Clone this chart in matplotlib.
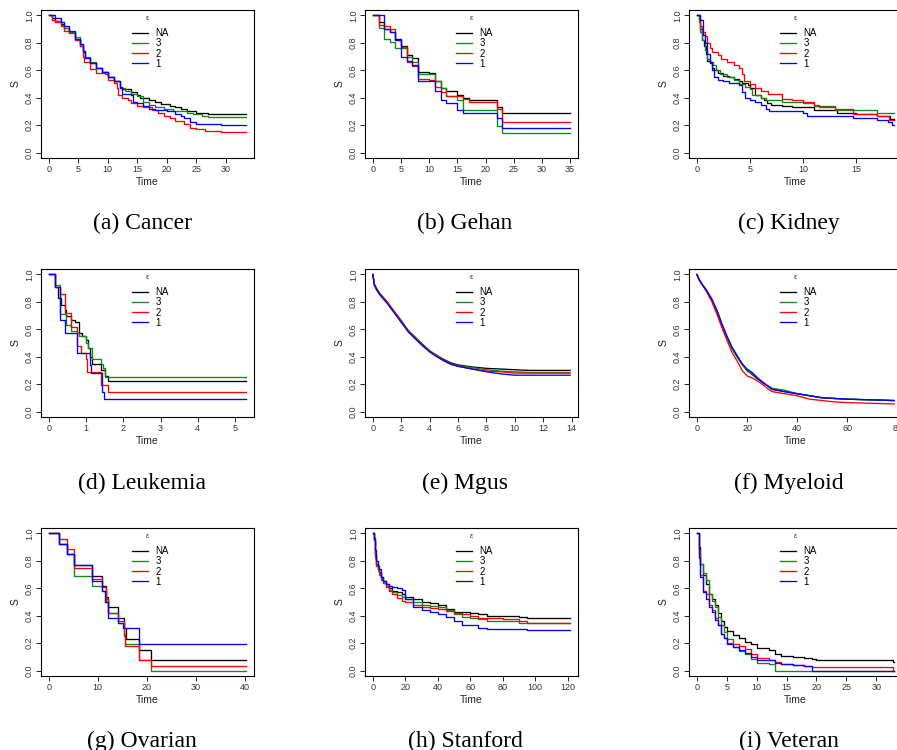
import matplotlib
matplotlib.use('Agg')
import matplotlib.pyplot as plt

plt.rcParams['font.family'] = ['Liberation Sans', 'DejaVu Sans']

labels = ['NA', '3', '2', '1']
colors = ['black', '#118811', '#ff0000', '#0000ff']

# (a) Cancer
cancer_na_t = [0, 0.5, 1, 2, 2.5, 3.5, 4.5, 5.3, 5.8, 6.1, 7, 8, 9, 10, 11, 12, 12.5, 14, 15, 15.5, 17, 18, 19, 20.5, 21.5, 22.5, 23.5, 25, 26, 27, 33.5]
cancer_na_s = [1.0, 0.98, 0.96, 0.94, 0.91, 0.88, 0.83, 0.78, 0.73, 0.69, 0.65, 0.62, 0.59, 0.55, 0.52, 0.48, 0.46, 0.44, 0.42, 0.40, 0.38, 0.37, 0.355, 0.34, 0.33, 0.32, 0.305, 0.29, 0.285, 0.28, 0.28]
cancer_g_t = [0, 0.5, 1, 2, 2.5, 3.5, 4.5, 5.3, 5.8, 6.1, 7, 8, 9, 10, 11, 12, 13, 14, 15, 16, 17, 18, 19.5, 21, 22, 23.5, 24.5, 26, 27, 33.5]
cancer_g_s = [1.0, 0.97, 0.96, 0.93, 0.91, 0.88, 0.84, 0.79, 0.74, 0.70, 0.66, 0.62, 0.59, 0.55, 0.52, 0.47, 0.45, 0.43, 0.41, 0.37, 0.35, 0.33, 0.315, 0.305, 0.30, 0.29, 0.28, 0.27, 0.26, 0.26]
cancer_r_t = [0, 0.5, 1, 2, 2.5, 3.5, 4.5, 5.3, 5.8, 6, 7, 8, 9.5, 10, 11, 11.5, 11.8, 12.5, 13.5, 14, 15, 16, 17.5, 18.5, 19.5, 20.5, 21.5, 23, 24, 25, 26.5, 29.3, 33.5]
cancer_r_s = [1.0, 0.97, 0.95, 0.92, 0.89, 0.87, 0.82, 0.78, 0.70, 0.66, 0.61, 0.58, 0.57, 0.53, 0.51, 0.47, 0.42, 0.40, 0.38, 0.36, 0.34, 0.33, 0.31, 0.29, 0.27, 0.25, 0.23, 0.21, 0.18, 0.17, 0.16, 0.15, 0.15]
cancer_b_t = [0, 1, 2, 2.5, 3.5, 4.5, 5.3, 5.8, 6.2, 7, 8, 9, 10, 11, 12, 12.5, 14, 14.3, 15, 16, 17, 18, 20, 21.5, 22.5, 23, 24, 25, 29.3, 33.5]
cancer_b_s = [1.0, 0.98, 0.95, 0.92, 0.89, 0.83, 0.79, 0.74, 0.69, 0.65, 0.62, 0.59, 0.55, 0.52, 0.47, 0.43, 0.42, 0.37, 0.36, 0.34, 0.32, 0.31, 0.30, 0.28, 0.27, 0.25, 0.22, 0.21, 0.20, 0.20]

# (b) Gehan
gehan_na_t = [0, 1, 2, 3, 4, 5, 6, 7, 8, 10, 11, 12, 13, 15, 16, 17, 22, 23, 35]
gehan_na_s = [1.0, 0.95, 0.90, 0.88, 0.83, 0.78, 0.71, 0.69, 0.59, 0.58, 0.52, 0.47, 0.45, 0.42, 0.40, 0.38, 0.33, 0.285, 0.285]
gehan_g_t = [0, 1, 2, 3, 4, 6, 7, 8, 11, 12, 13, 15, 16, 22, 23, 35]
gehan_g_s = [1.0, 0.91, 0.83, 0.81, 0.76, 0.70, 0.66, 0.57, 0.52, 0.47, 0.41, 0.38, 0.31, 0.19, 0.14, 0.14]
gehan_r_t = [0, 1, 2, 3, 4, 5, 6, 7, 8, 10, 11, 12, 13, 16, 17, 22, 23, 35]
gehan_r_s = [1.0, 0.93, 0.92, 0.90, 0.82, 0.77, 0.66, 0.63, 0.54, 0.53, 0.48, 0.44, 0.41, 0.39, 0.37, 0.32, 0.22, 0.22]
gehan_b_t = [0, 2, 3, 4, 5, 6, 7, 8, 11, 12, 13, 15, 16, 22, 23, 35]
gehan_b_s = [1.0, 0.90, 0.88, 0.82, 0.70, 0.67, 0.64, 0.52, 0.45, 0.38, 0.36, 0.31, 0.29, 0.25, 0.18, 0.18]

# (c) Kidney
kidney_na_t = [0, 0.2, 0.3, 0.5, 0.7, 0.9, 1.0, 1.2, 1.4, 1.6, 2.0, 2.5, 3.0, 3.5, 4.0, 4.3, 4.8, 5.0, 5.5, 6.0, 6.3, 6.6, 7.0, 8.0, 9.0, 10.0, 11.0, 13.2, 15.0, 17.0, 18.2, 18.6]
kidney_na_s = [1.0, 0.97, 0.90, 0.82, 0.78, 0.72, 0.67, 0.65, 0.62, 0.60, 0.58, 0.56, 0.55, 0.54, 0.52, 0.51, 0.49, 0.47, 0.42, 0.40, 0.38, 0.36, 0.35, 0.34, 0.335, 0.33, 0.31, 0.29, 0.28, 0.27, 0.245, 0.245]
kidney_g_t = [0, 0.2, 0.3, 0.5, 0.8, 1.0, 1.2, 1.5, 1.8, 2.2, 2.8, 3.5, 4.0, 4.5, 5.0, 5.2, 6.0, 6.5, 8.0, 10.0, 11.0, 13.0, 17.0, 18.6]
kidney_g_s = [1.0, 0.95, 0.88, 0.82, 0.75, 0.68, 0.66, 0.64, 0.60, 0.57, 0.55, 0.53, 0.50, 0.48, 0.46, 0.42, 0.40, 0.38, 0.37, 0.36, 0.34, 0.31, 0.29, 0.29]
kidney_r_t = [0, 0.3, 0.5, 0.8, 1.0, 1.2, 1.4, 2.0, 2.3, 2.8, 3.5, 4.0, 4.3, 4.4, 5.0, 5.5, 6.0, 6.7, 8.0, 9.0, 10.0, 11.0, 11.5, 13.0, 14.7, 17.0, 18.1, 18.6]
kidney_r_s = [1.0, 0.92, 0.88, 0.85, 0.80, 0.76, 0.73, 0.71, 0.68, 0.66, 0.64, 0.62, 0.57, 0.52, 0.50, 0.47, 0.45, 0.43, 0.39, 0.38, 0.37, 0.35, 0.33, 0.32, 0.28, 0.265, 0.24, 0.24]
kidney_b_t = [0, 0.3, 0.6, 0.8, 1.0, 1.2, 1.4, 1.6, 2.0, 2.5, 3.0, 4.0, 4.3, 4.5, 5.0, 5.5, 6.0, 6.5, 6.8, 10.0, 10.4, 14.7, 17.0, 18.0, 18.4, 18.6]
kidney_b_s = [1.0, 0.97, 0.86, 0.80, 0.72, 0.66, 0.60, 0.55, 0.53, 0.52, 0.51, 0.49, 0.44, 0.40, 0.38, 0.37, 0.35, 0.32, 0.30, 0.29, 0.265, 0.25, 0.24, 0.22, 0.20, 0.20]

# (d) Leukemia
leuk_na_t = [0, 0.17, 0.25, 0.33, 0.42, 0.45, 0.6, 0.7, 0.8, 0.9, 1.0, 1.05, 1.1, 1.15, 1.4, 1.5, 1.6, 5.3]
leuk_na_s = [1.0, 0.91, 0.83, 0.78, 0.74, 0.70, 0.67, 0.65, 0.57, 0.55, 0.52, 0.46, 0.40, 0.35, 0.30, 0.26, 0.22, 0.22]
leuk_g_t = [0, 0.17, 0.3, 0.45, 0.6, 0.75, 0.8, 1.0, 1.05, 1.15, 1.4, 1.45, 1.5, 5.3]
leuk_g_s = [1.0, 0.92, 0.71, 0.63, 0.59, 0.57, 0.55, 0.50, 0.46, 0.38, 0.35, 0.32, 0.25, 0.25]
leuk_r_t = [0, 0.17, 0.3, 0.42, 0.6, 0.75, 0.85, 1.0, 1.03, 1.4, 1.6, 5.3]
leuk_r_s = [1.0, 0.91, 0.86, 0.72, 0.62, 0.48, 0.43, 0.38, 0.29, 0.19, 0.14, 0.14]
leuk_b_t = [0, 0.17, 0.3, 0.42, 0.75, 1.1, 1.12, 1.42, 1.48, 5.3]
leuk_b_s = [1.0, 0.91, 0.67, 0.57, 0.43, 0.34, 0.28, 0.14, 0.095, 0.095]

# (e) Mgus
mgus_t = [0, 0.1, 0.3, 0.5, 1, 1.5, 2, 2.5, 3, 3.5, 4, 4.5, 5, 5.5, 6, 7, 8, 9, 10, 11, 12, 13.9]
mgus_na = [1, 0.93, 0.89, 0.86, 0.80, 0.73, 0.66, 0.59, 0.54, 0.49, 0.44, 0.41, 0.38, 0.355, 0.34, 0.325, 0.315, 0.31, 0.305, 0.30, 0.30, 0.30]
mgus_g = [1, 0.93, 0.89, 0.86, 0.80, 0.73, 0.665, 0.59, 0.54, 0.49, 0.445, 0.41, 0.375, 0.35, 0.335, 0.32, 0.305, 0.295, 0.29, 0.285, 0.285, 0.285]
mgus_r = [1, 0.93, 0.885, 0.855, 0.80, 0.73, 0.655, 0.585, 0.53, 0.48, 0.44, 0.405, 0.37, 0.345, 0.33, 0.31, 0.295, 0.29, 0.28, 0.28, 0.28, 0.28]
mgus_b = [1, 0.92, 0.88, 0.85, 0.79, 0.72, 0.65, 0.58, 0.53, 0.48, 0.435, 0.40, 0.37, 0.345, 0.33, 0.31, 0.29, 0.275, 0.265, 0.265, 0.265, 0.265]

# (f) Myeloid
mye_t = [0, 1, 2, 4, 6, 8, 10, 12, 14, 16, 18, 20, 22, 24, 26, 28, 30, 35, 40, 45, 50, 55, 60, 70, 78.6]
mye_na = [1, 0.96, 0.93, 0.88, 0.81, 0.73, 0.63, 0.54, 0.46, 0.40, 0.345, 0.30, 0.27, 0.24, 0.215, 0.19, 0.165, 0.145, 0.13, 0.115, 0.10, 0.095, 0.09, 0.085, 0.08]
mye_g = [1, 0.96, 0.93, 0.88, 0.81, 0.73, 0.63, 0.54, 0.46, 0.40, 0.345, 0.295, 0.275, 0.245, 0.22, 0.19, 0.17, 0.155, 0.13, 0.115, 0.10, 0.095, 0.09, 0.085, 0.08]
mye_r = [1, 0.96, 0.93, 0.87, 0.80, 0.71, 0.61, 0.52, 0.43, 0.37, 0.30, 0.26, 0.245, 0.225, 0.20, 0.17, 0.145, 0.13, 0.115, 0.09, 0.08, 0.07, 0.065, 0.06, 0.055]
mye_b = [1, 0.96, 0.93, 0.88, 0.82, 0.74, 0.64, 0.55, 0.47, 0.41, 0.35, 0.31, 0.285, 0.25, 0.215, 0.19, 0.16, 0.145, 0.13, 0.115, 0.10, 0.095, 0.09, 0.085, 0.08]

# (g) Ovarian
ov_na_t = [0, 2, 3.8, 5.1, 8.8, 10.9, 11.6, 12.0, 14.2, 15.3, 15.7, 18.5, 20.9, 40.3]
ov_na_s = [1.0, 0.92, 0.85, 0.77, 0.69, 0.62, 0.54, 0.46, 0.38, 0.31, 0.23, 0.15, 0.077, 0.077]
ov_g_t = [0, 2, 3.8, 5.1, 8.8, 10.9, 11.6, 12.0, 14.2, 15.3, 15.5, 18.5, 20.9, 40.3]
ov_g_s = [1.0, 0.92, 0.85, 0.69, 0.62, 0.58, 0.50, 0.42, 0.35, 0.27, 0.19, 0.077, 0.0, 0.0]
ov_r_t = [0, 2, 3.8, 5.1, 8.8, 10.9, 11.6, 12.0, 14.2, 15.3, 15.6, 18.5, 20.9, 40.3]
ov_r_s = [1.0, 0.96, 0.89, 0.75, 0.67, 0.61, 0.52, 0.42, 0.36, 0.25, 0.18, 0.077, 0.036, 0.036]
ov_b_t = [0, 2, 3.8, 5.1, 8.8, 10.9, 11.4, 12.0, 14.2, 15.2, 18.5, 40.3]
ov_b_s = [1.0, 0.92, 0.85, 0.77, 0.65, 0.58, 0.50, 0.38, 0.35, 0.31, 0.19, 0.19]

# (h) Stanford
st_t = [0, 0.5, 1, 1.5, 2, 3, 4, 5, 6, 8, 10, 12, 15, 18, 20, 25, 30, 35, 40, 45, 50, 55, 60, 65, 70, 80, 90, 95, 121.5]
st_na = [1, 0.95, 0.9, 0.85, 0.78, 0.74, 0.72, 0.68, 0.65, 0.63, 0.60, 0.58, 0.57, 0.56, 0.54, 0.52, 0.50, 0.49, 0.475, 0.45, 0.43, 0.425, 0.42, 0.41, 0.40, 0.395, 0.39, 0.385, 0.385]
st_g = [1, 0.95, 0.88, 0.82, 0.76, 0.73, 0.70, 0.66, 0.64, 0.62, 0.59, 0.57, 0.55, 0.54, 0.52, 0.50, 0.48, 0.47, 0.46, 0.44, 0.41, 0.39, 0.38, 0.375, 0.36, 0.36, 0.35, 0.35, 0.345]
st_r = [1, 0.95, 0.9, 0.84, 0.77, 0.74, 0.71, 0.67, 0.64, 0.61, 0.58, 0.56, 0.53, 0.51, 0.50, 0.48, 0.465, 0.455, 0.45, 0.435, 0.42, 0.41, 0.40, 0.38, 0.38, 0.375, 0.365, 0.35, 0.35]
st_b = [1, 0.97, 0.93, 0.88, 0.80, 0.76, 0.74, 0.68, 0.65, 0.63, 0.62, 0.61, 0.60, 0.585, 0.52, 0.46, 0.44, 0.43, 0.41, 0.39, 0.36, 0.335, 0.33, 0.31, 0.30, 0.30, 0.30, 0.295, 0.295]

# (i) Veteran
vet_t = [0, 0.3, 0.6, 1, 1.5, 2, 2.5, 3, 3.5, 4, 4.5, 5, 6, 7, 8, 9, 10, 12, 13, 14, 16, 18, 19.3, 20, 25, 32.8, 33]
vet_na = [1, 0.9, 0.78, 0.70, 0.63, 0.56, 0.52, 0.48, 0.42, 0.36, 0.32, 0.29, 0.26, 0.24, 0.21, 0.19, 0.165, 0.15, 0.12, 0.105, 0.10, 0.09, 0.085, 0.08, 0.08, 0.065, 0.065]
vet_g = [1, 0.88, 0.78, 0.71, 0.66, 0.56, 0.51, 0.46, 0.39, 0.33, 0.28, 0.23, 0.17, 0.14, 0.12, 0.085, 0.055, 0.045, 0.0, 0.0, 0.0, 0.0, 0.0, 0.0, 0.0, 0.0, 0.0]
vet_r = [1, 0.85, 0.70, 0.58, 0.56, 0.48, 0.44, 0.38, 0.33, 0.27, 0.24, 0.20, 0.19, 0.18, 0.16, 0.12, 0.095, 0.075, 0.06, 0.045, 0.04, 0.03, 0.025, 0.025, 0.025, 0.0, 0.0]
vet_b = [1, 0.82, 0.68, 0.57, 0.52, 0.46, 0.43, 0.37, 0.33, 0.27, 0.24, 0.19, 0.17, 0.15, 0.13, 0.10, 0.08, 0.075, 0.055, 0.045, 0.04, 0.035, 0.0, 0.0, 0.0, 0.0, 0.0]

panels = [
    ('(a) Cancer', [(cancer_na_t, cancer_na_s), (cancer_g_t, cancer_g_s), (cancer_r_t, cancer_r_s), (cancer_b_t, cancer_b_s)], 33.5, [0, 5, 10, 15, 20, 25, 30], 'steps-post'),
    ('(b) Gehan', [(gehan_na_t, gehan_na_s), (gehan_g_t, gehan_g_s), (gehan_r_t, gehan_r_s), (gehan_b_t, gehan_b_s)], 35, [0, 5, 10, 15, 20, 25, 30, 35], 'steps-post'),
    ('(c) Kidney', [(kidney_na_t, kidney_na_s), (kidney_g_t, kidney_g_s), (kidney_r_t, kidney_r_s), (kidney_b_t, kidney_b_s)], 18.6, [0, 5, 10, 15], 'steps-post'),
    ('(d) Leukemia', [(leuk_na_t, leuk_na_s), (leuk_g_t, leuk_g_s), (leuk_r_t, leuk_r_s), (leuk_b_t, leuk_b_s)], 5.3, [0, 1, 2, 3, 4, 5], 'steps-post'),
    ('(e) Mgus', [(mgus_t, mgus_na), (mgus_t, mgus_g), (mgus_t, mgus_r), (mgus_t, mgus_b)], 13.9, [0, 2, 4, 6, 8, 10, 12, 14], 'default'),
    ('(f) Myeloid', [(mye_t, mye_na), (mye_t, mye_g), (mye_t, mye_r), (mye_t, mye_b)], 78.6, [0, 20, 40, 60, 80], 'default'),
    ('(g) Ovarian', [(ov_na_t, ov_na_s), (ov_g_t, ov_g_s), (ov_r_t, ov_r_s), (ov_b_t, ov_b_s)], 40.3, [0, 10, 20, 30, 40], 'steps-post'),
    ('(h) Stanford', [(st_t, st_na), (st_t, st_g), (st_t, st_r), (st_t, st_b)], 121.5, [0, 20, 40, 60, 80, 100, 120], 'steps-post'),
    ('(i) Veteran', [(vet_t, vet_na), (vet_t, vet_g), (vet_t, vet_r), (vet_t, vet_b)], 33, [0, 5, 10, 15, 20, 25, 30], 'steps-post'),
]

W, H = 897, 750
col_left = [41, 365, 689]
row_top = [10, 269, 528]
aw, ah = 213, 148
cap_x = [142, 465, 789]
cap_y = [223, 483, 741]

fig = plt.figure(figsize=(W / 100, H / 100), dpi=100)

for i, (title, curves, tmax, xticks, style) in enumerate(panels):
    r, c = divmod(i, 3)
    ax = fig.add_axes([col_left[c] / W, 1 - (row_top[r] + ah) / H, aw / W, ah / H])
    for (t, s), lab, col in zip(curves, labels, colors):
        ax.plot(t, s, drawstyle=style, color=col, lw=0.95, label=lab)
    ax.set_xlim(-0.04 * tmax, 1.04 * tmax)
    ax.set_ylim(-0.04, 1.04)
    ax.set_xticks(xticks)
    ax.set_yticks([0, 0.2, 0.4, 0.6, 0.8, 1.0])
    ax.set_yticklabels(['0.0', '0.2', '0.4', '0.6', '0.8', '1.0'], rotation=90, va='center')
    ax.tick_params(direction='out', length=3.5, width=0.6, labelsize=6.5, pad=1.5, labelcolor='#333333')
    for sp in ax.spines.values():
        sp.set_linewidth(0.8)
    ax.set_xlabel('Time', fontsize=7.5, labelpad=2, color='#222222')
    ax.set_ylabel('S', fontsize=7.5, labelpad=3, color='#222222')
    ax.text(0.5, 0.94, '\u03b5', transform=ax.transAxes, ha='center', va='center',
            fontsize=5.5, color='#333333')
    ax.legend(loc='upper left', bbox_to_anchor=(0.427, 0.877), frameon=False,
              fontsize=7, handlelength=1.7, handletextpad=0.7,
              labelspacing=0.02, borderpad=0, borderaxespad=0)
    fig.text(cap_x[c] / W, 1 - cap_y[r] / H, title, ha='center', va='center',
             family=['Liberation Serif', 'DejaVu Serif'], fontsize=17)

fig.savefig('out.png', dpi=100)
